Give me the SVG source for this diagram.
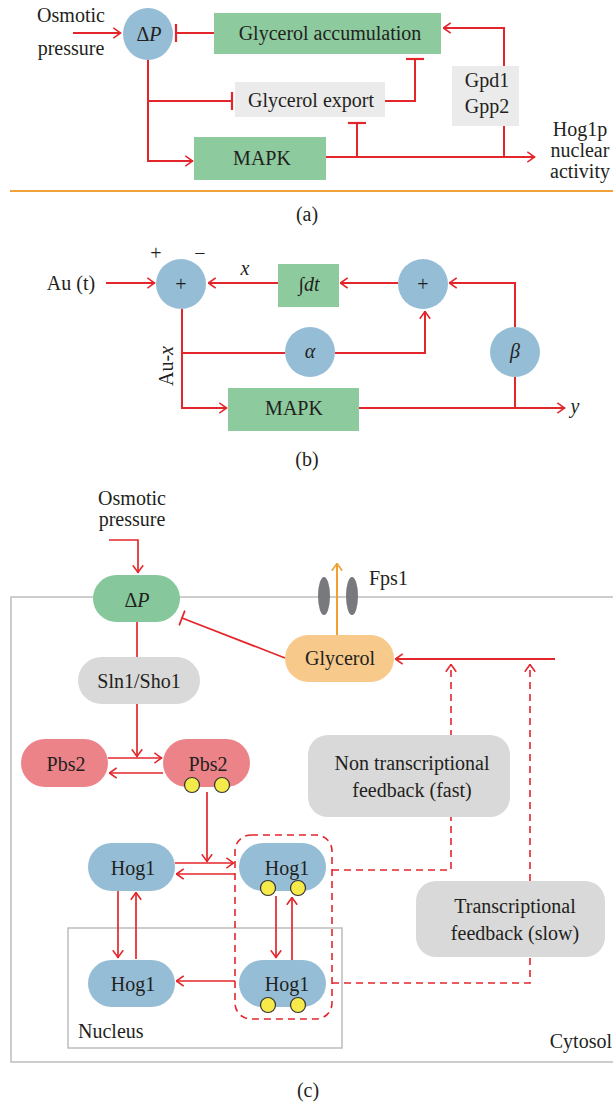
<svg xmlns="http://www.w3.org/2000/svg" width="613" height="1103" viewBox="0 0 613 1103">
<style>
text{font-family:"Liberation Serif","Times New Roman",serif;font-size:20px;fill:#231f20}
.m{text-anchor:middle}
.i{font-style:italic}
.ln{fill:none;stroke:#e3262b;stroke-width:2}
.ln2{fill:none;stroke:#e3262b;stroke-width:1.7}
.dash{fill:none;stroke:#e3262b;stroke-width:1.6;stroke-dasharray:7,5}
.grn{fill:#8dcb9f}
.grn2{fill:#86c89b}
.blu{fill:#95bdd6}
.gry{fill:#ebebeb}
.gry2{fill:#d9d9d9}
.pnk{fill:#ec8388}
.org{fill:#f7c98b}
.yel{fill:#f5ea4a;stroke:#333;stroke-width:1.2}
.frame{fill:none;stroke:#bdbdbd;stroke-width:1.5}
</style>
<defs>
<marker id="arr" viewBox="0 0 9 12" refX="8.5" refY="6" markerWidth="9" markerHeight="12" markerUnits="userSpaceOnUse" orient="auto">
<path d="M0.8,0.8 L8,6 L0.8,11.2" fill="none" stroke="#e3262b" stroke-width="1.6"/>
</marker>
<marker id="arrO" viewBox="0 0 9 12" refX="8.5" refY="6" markerWidth="9" markerHeight="12" markerUnits="userSpaceOnUse" orient="auto">
<path d="M0.8,0.8 L8,6 L0.8,11.2" fill="none" stroke="#f0a030" stroke-width="1.6"/>
</marker>
<marker id="tee" viewBox="0 0 4 18" refX="2" refY="9" markerWidth="4" markerHeight="18" markerUnits="userSpaceOnUse" orient="auto">
<path d="M2,0 V18" stroke="#e3262b" stroke-width="2.2"/>
</marker>
<marker id="teeS" viewBox="0 0 4 16" refX="2" refY="8" markerWidth="4" markerHeight="16" markerUnits="userSpaceOnUse" orient="auto">
<path d="M2,0 V16" stroke="#e3262b" stroke-width="1.8"/>
</marker>
</defs>

<!-- Panel (a) -->
<g id="a-connectors">
<path class="ln" d="M73,33 H121" marker-end="url(#arr)"/>
<path class="ln" d="M214,33 H176" marker-end="url(#tee)"/>
<path class="ln" d="M504,66 V28 H443" marker-end="url(#arr)"/>
<path class="ln" d="M148,60 V161 H193" marker-end="url(#arr)"/>
<path class="ln" d="M148,101 H232" marker-end="url(#tee)"/>
<path class="ln" d="M385,101 H415 V59" marker-end="url(#tee)"/>
<path class="ln" d="M326,157 H535" marker-end="url(#arr)"/>
<path class="ln" d="M357,157 V123" marker-end="url(#tee)"/>
<path class="ln" d="M504,126 V157"/>
</g>
<g id="a-osmotic"><text class="m" x="71" y="22">Osmotic</text><text class="m" x="71" y="55">pressure</text></g>
<g id="a-dp"><ellipse class="blu" cx="148" cy="34" rx="25" ry="26"/><text class="m" x="149" y="41">Δ<tspan class="i">P</tspan></text></g>
<g id="a-glyacc"><rect class="grn" x="214" y="13" width="227" height="41"/><text class="m" x="330" y="40">Glycerol accumulation</text></g>
<g id="a-glyexp"><rect class="gry" x="235" y="82" width="150" height="35"/><text class="m" x="311" y="107">Glycerol export</text></g>
<g id="a-gpd"><rect class="gry" x="452" y="66" width="67" height="60"/><text class="m" x="487" y="87">Gpd1</text><text class="m" x="487" y="113">Gpp2</text></g>
<g id="a-mapk"><rect class="grn" x="194" y="137" width="132" height="43"/><text class="m" x="262" y="165">MAPK</text></g>
<g id="a-hog"><text class="m" x="580" y="136">Hog1p</text><text class="m" x="580" y="157">nuclear</text><text class="m" x="580" y="178">activity</text></g>
<path d="M10,191 H613" stroke="#f2a23a" stroke-width="2"/>
<text class="m" x="307" y="221">(a)</text>

<!-- Panel (b) -->
<g id="b-connectors">
<path class="ln" d="M106,283 H155" marker-end="url(#arr)"/>
<path class="ln" d="M398,283 H340" marker-end="url(#arr)"/>
<path class="ln" d="M278,283 H208" marker-end="url(#arr)"/>
<path class="ln" d="M515,327 V283 H449" marker-end="url(#arr)"/>
<path class="ln" d="M182,309 V408 H227" marker-end="url(#arr)"/>
<path class="ln" d="M182,353 H285"/>
<path class="ln" d="M335,353 H425 V311" marker-end="url(#arr)"/>
<path class="ln" d="M359,408 H565" marker-end="url(#arr)"/>
<path class="ln" d="M515,377 V408"/>
</g>
<g id="b-signs"><text class="m" x="156" y="260">+</text><text class="m" x="200" y="260">−</text></g>
<text class="m" x="71" y="290">Au (t)</text>
<text class="m i" x="245" y="275">x</text>
<g id="b-sum1"><ellipse class="blu" cx="181" cy="284" rx="25" ry="25"/><text class="m" x="181" y="291">+</text></g>
<g id="b-int"><rect class="grn" x="278" y="264" width="61" height="43"/><text class="m" x="309" y="291">∫<tspan class="i">dt</tspan></text></g>
<g id="b-sum2"><ellipse class="blu" cx="423" cy="284" rx="25" ry="25"/><text class="m" x="423" y="291">+</text></g>
<g id="b-alpha"><ellipse class="blu" cx="310" cy="352" rx="25" ry="25"/><text class="m i" x="310" y="358">α</text></g>
<g id="b-beta"><ellipse class="blu" cx="515" cy="352" rx="25" ry="25"/><text class="m i" x="515" y="358">β</text></g>
<g id="b-mapk"><rect class="grn" x="228" y="388" width="131" height="43"/><text class="m" x="294" y="415">MAPK</text></g>
<text class="m i" x="575" y="413">y</text>
<text class="m" transform="translate(173,366) rotate(-90)">Au-<tspan class="i">x</tspan></text>
<text class="m" x="307" y="466">(b)</text>

<!-- Panel (c) -->
<rect class="frame" x="11" y="597" width="640" height="465"/>
<rect class="frame" x="68" y="928" width="274" height="120"/>
<g id="c-connectors">
<path class="ln2" d="M109,540 H138 V573" marker-end="url(#arr)"/>
<path class="ln2" d="M137,622 V657"/>
<path class="ln2" d="M285,658 L182,618" marker-end="url(#teeS)"/>
<path class="ln" d="M555,659 H395" marker-end="url(#arr)"/>
<path class="dash" d="M332,870 H451 V664" marker-end="url(#arr)"/>
<path class="dash" d="M332,983 H530 V664" marker-end="url(#arr)"/>
<path class="ln2" d="M137,703 V757" marker-end="url(#arr)"/>
<path class="ln2" d="M108,758 H162" marker-end="url(#arr)"/>
<path class="ln2" d="M163,773 H109" marker-end="url(#arr)"/>
<path class="ln2" d="M207,792 V862" marker-end="url(#arr)"/>
<path class="ln2" d="M175,863 H234" marker-end="url(#arr)"/>
<path class="ln2" d="M235,874 H176" marker-end="url(#arr)"/>
<path class="ln2" d="M118,891 V958" marker-end="url(#arr)"/>
<path class="ln2" d="M136,959 V892" marker-end="url(#arr)"/>
<path class="ln2" d="M276,896 V958" marker-end="url(#arr)"/>
<path class="ln2" d="M292,960 V897" marker-end="url(#arr)"/>
<path class="ln2" d="M235,981 H176" marker-end="url(#arr)"/>
<path d="M337,635 V563" fill="none" stroke="#f0a030" stroke-width="2" marker-end="url(#arrO)"/>
</g>
<g id="c-osmotic"><text class="m" x="132" y="505">Osmotic</text><text class="m" x="132" y="526">pressure</text></g>
<g id="c-dp"><rect class="grn2" x="93" y="575" width="87" height="47" rx="23.5"/><text class="m" x="137" y="607">Δ<tspan class="i">P</tspan></text></g>
<g id="c-fps1"><ellipse cx="324" cy="596" rx="6" ry="19" fill="#77797c"/><ellipse cx="352" cy="596" rx="6" ry="19" fill="#77797c"/><text x="369" y="585">Fps1</text></g>
<g id="c-glycerol"><rect class="org" x="285" y="635" width="109" height="47" rx="23.5"/><text class="m" x="340" y="665">Glycerol</text></g>
<g id="c-sln1"><rect class="gry2" x="78" y="657" width="122" height="47" rx="23.5"/><text class="m" x="139" y="688">Sln1/Sho1</text></g>
<g id="c-pbs2a"><rect class="pnk" x="21" y="739" width="87" height="48" rx="24"/><text class="m" x="66" y="771">Pbs2</text></g>
<g id="c-pbs2b"><rect class="pnk" x="163" y="739" width="87" height="48" rx="24"/><text class="m" x="208" y="771">Pbs2</text><circle class="yel" cx="192" cy="785" r="7.5"/><circle class="yel" cx="222" cy="785" r="7.5"/></g>
<g id="c-hog1a"><rect class="blu" x="88" y="843" width="87" height="48" rx="24"/><text class="m" x="133" y="875">Hog1</text></g>
<g id="c-hog1b"><rect class="blu" x="239" y="843" width="87" height="48" rx="24"/><text class="m" x="287" y="875">Hog1</text><circle class="yel" cx="268" cy="888" r="7.5"/><circle class="yel" cx="298" cy="888" r="7.5"/></g>
<g id="c-hog1c"><rect class="blu" x="88" y="960" width="87" height="47" rx="23.5"/><text class="m" x="133" y="991">Hog1</text></g>
<g id="c-hog1d"><rect class="blu" x="239" y="960" width="87" height="47" rx="23.5"/><text class="m" x="287" y="991">Hog1</text><circle class="yel" cx="268" cy="1005" r="7.5"/><circle class="yel" cx="298" cy="1005" r="7.5"/></g>
<rect class="dash" x="235" y="835" width="97" height="184" rx="16"/>
<g id="c-nontx"><rect class="gry2" x="308" y="735" width="202" height="82" rx="20"/><text class="m" x="412" y="770">Non transcriptional</text><text class="m" x="412" y="797">feedback (fast)</text></g>
<g id="c-tx"><rect class="gry2" x="416" y="881" width="189" height="76" rx="20"/><text class="m" x="515" y="913">Transcriptional</text><text class="m" x="515" y="940">feedback (slow)</text></g>
<text x="78" y="1038">Nucleus</text>
<text x="612" y="1048" text-anchor="end">Cytosol</text>
<text class="m" x="308" y="1097">(c)</text>
</svg>
